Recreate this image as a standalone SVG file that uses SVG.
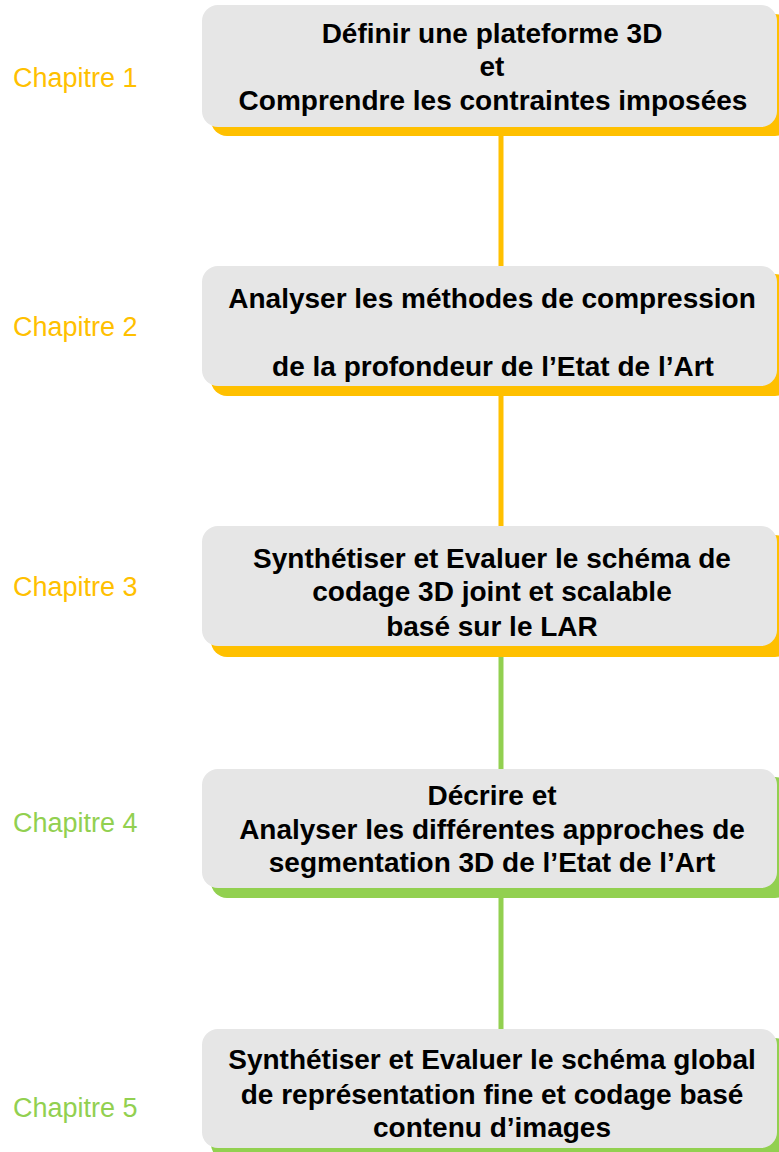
<svg xmlns="http://www.w3.org/2000/svg" width="779" height="1152" viewBox="0 0 779 1152">
<style>
.box{fill:#E6E6E6;}
.sho{fill:#FFC000;}
.shg{fill:#92D050;}
.t{font-family:"Liberation Sans",Arial,sans-serif;font-weight:bold;font-size:28px;fill:#000;text-anchor:middle;}
.ch{font-family:"Liberation Sans",Arial,sans-serif;font-size:27px;}
.co{fill:#FFC000;}
.cg{fill:#92D050;}
.lo{stroke:#FFC000;stroke-width:5;}
.lg{stroke:#92D050;stroke-width:5;}
</style>
<rect width="779" height="1152" fill="#fff"/>
<g id="connectors">
<line class="lo" x1="501" y1="130" x2="501" y2="270"/>
<line class="lo" x1="501" y1="390" x2="501" y2="530"/>
<line class="lg" x1="501" y1="650" x2="501" y2="772"/>
<line class="lg" x1="501" y1="890" x2="501" y2="1032"/>
</g>
<g id="node1">
<rect class="sho" x="211" y="14" width="580" height="122" rx="16"/>
<rect class="box" x="202" y="5" width="575" height="122" rx="16"/>
<text class="t" x="492" y="43">Définir une plateforme 3D</text>
<text class="t" x="492" y="76">et</text>
<text class="t" x="493" y="110">Comprendre les contraintes imposées</text>
</g>
<g id="node2">
<rect class="sho" x="211" y="274" width="580" height="122" rx="16"/>
<rect class="box" x="202" y="266" width="575" height="120" rx="16"/>
<text class="t" x="492" y="308">Analyser les méthodes de compression</text>
<text class="t" x="493" y="376">de la profondeur de l’Etat de l’Art</text>
</g>
<g id="node3">
<rect class="sho" x="211" y="535" width="580" height="122" rx="16"/>
<rect class="box" x="202" y="526" width="575" height="120" rx="16"/>
<text class="t" x="492" y="568">Synthétiser et Evaluer le schéma de</text>
<text class="t" x="492" y="601">codage 3D joint et scalable</text>
<text class="t" x="492" y="636">basé sur le LAR</text>
</g>
<g id="node4">
<rect class="shg" x="211" y="777" width="580" height="121" rx="16"/>
<rect class="box" x="202" y="769" width="575" height="119" rx="16"/>
<text class="t" x="492" y="805">Décrire et</text>
<text class="t" x="492" y="839">Analyser les différentes approches de</text>
<text class="t" x="492" y="872">segmentation 3D de l’Etat de l’Art</text>
</g>
<g id="node5">
<rect class="shg" x="211" y="1038" width="580" height="122" rx="16"/>
<rect class="box" x="202" y="1029" width="575" height="119" rx="16"/>
<text class="t" x="492" y="1069">Synthétiser et Evaluer le schéma global</text>
<text class="t" x="492" y="1104">de représentation fine et codage basé</text>
<text class="t" x="492" y="1137">contenu d’images</text>
</g>
<g id="labels">
<text class="ch co" x="13" y="87">Chapitre 1</text>
<text class="ch co" x="13" y="336">Chapitre 2</text>
<text class="ch co" x="13" y="596">Chapitre 3</text>
<text class="ch cg" x="13" y="832">Chapitre 4</text>
<text class="ch cg" x="13" y="1117">Chapitre 5</text>
</g>
</svg>
